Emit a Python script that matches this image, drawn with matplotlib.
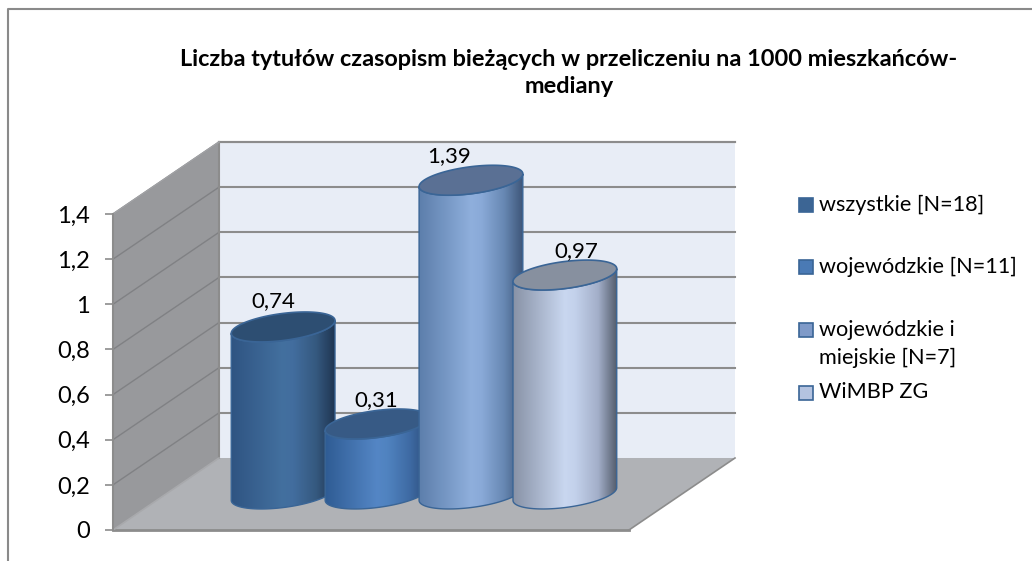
import numpy as np
import matplotlib
matplotlib.use("Agg")
import matplotlib.pyplot as plt
from matplotlib.colors import LinearSegmentedColormap
from matplotlib.patches import Polygon, Rectangle

TITLE = "Liczba tytułów czasopism bieżących w przeliczeniu na 1000 mieszkańców-\nmediany"
series = ["wszystkie [N=18]", "wojewódzkie [N=11]", "wojewódzkie i\nmiejskie [N=7]", "WiMBP ZG"]
values = [0.74, 0.31, 1.39, 0.97]
value_labels = ["0,74", "0,31", "1,39", "0,97"]
ticks = [0, 0.2, 0.4, 0.6, 0.8, 1, 1.2, 1.4]
tick_labels = ["0", "0,2", "0,4", "0,6", "0,8", "1", "1,2", "1,4"]

# side shading of each cylinder, left to right
shades = [
    ["#2f5482", "#43709f", "#426d9e", "#35597f", "#1f3552"],
    ["#2f5c94", "#5486c5", "#5083c0", "#3e6aa3", "#2a4b78"],
    ["#5c7eab", "#8fafdc", "#8aaad8", "#6788b3", "#3e5679"],
    ["#8892a6", "#c9d7f0", "#c3d1eb", "#a3afc9", "#545d6d"],
]
top_colors = ["#2d4e72", "#375a85", "#5a7094", "#87909f"]
legend_colors = ["#3c6594", "#4a7ab5", "#7f9ac8", "#b4c3e0"]
edge_color = "#3a6596"

plt.rcParams["font.family"] = ["Lato", "DejaVu Sans"]

W, H = 1032, 561
fig = plt.figure(figsize=(W / 100, H / 100), dpi=100)

# overlay in pixels for frame, title and legend
ov = fig.add_axes([0, 0, 1, 1], zorder=5)
ov.set_xlim(0, W)
ov.set_ylim(H, 0)
ov.axis("off")
ov.patch.set_alpha(0)

# real value axis: front edge of the left wall
ax = fig.add_axes([113 / W, (H - 530) / H, 516 / W, 316 / H])
ax.set_xlim(0, 1)
ax.set_ylim(0, 1.4)
ax.patch.set_alpha(0)
for s in ["top", "right", "bottom"]:
    ax.spines[s].set_visible(False)
ax.spines["left"].set_color("#8c8c8c")
ax.spines["left"].set_linewidth(1.5)
ax.set_xticks([])
ax.set_yticks(ticks)
ax.set_yticklabels(tick_labels, fontsize=17, color="#000000")
ax.tick_params(axis="y", length=5.8, width=1.2, color="#8c8c8c", pad=11)

# oblique depth: how far one full depth shifts right (axis fraction) and up (values)
DX = 106 / 516
DY = 72 / 225.7


def project(u, w, v):
    return np.column_stack([np.asarray(u) + np.asarray(w) * DX, np.asarray(v) + np.asarray(w) * DY])


def quad(pts, **kw):
    p = Polygon(pts, closed=True, clip_on=False, **kw)
    ax.add_patch(p)
    return p


quad(project([0, 1, 1, 0], [1, 1, 1, 1], [0, 0, 1.4, 1.4]), facecolor="#e8edf6", zorder=1,
     edgecolor="none")
quad(project([0, 0, 0, 0], [0, 1, 1, 0], [0, 0, 1.4, 1.4]), facecolor="#98999c", zorder=1,
     edgecolor="none")
quad(project([0, 1, 1, 0], [0, 0, 1, 1], [0, 0, 0, 0]), facecolor="#b0b2b6", zorder=1.2,
     edgecolor="none")
# wall and floor outlines
ax.plot(*project([0, 1], [1, 1], [1.4, 1.4]).T, color="#8c8c8c", lw=1.5, clip_on=False, zorder=1.3)
ax.plot(*project([0, 0], [1, 1], [0, 1.4]).T, color="#8c8c8c", lw=1.5, clip_on=False, zorder=1.3)
ax.plot(*project([0, 0], [0, 1], [1.4, 1.4]).T, color="#a0a1a4", lw=1.2, clip_on=False, zorder=1.3)
ax.plot(*project([0, 1], [0, 0], [0, 0]).T, color="#8c8c8c", lw=2, clip_on=False, zorder=1.3)
ax.plot(*project([1, 1], [0, 1], [0, 0]).T, color="#8c8c8c", lw=1.2, clip_on=False, zorder=1.3)
ax.plot(*project([0, 0], [0, 1], [0, 0]).T, color="#a8a9ac", lw=1.2, clip_on=False, zorder=1.3)

for t in ticks[1:]:
    ax.plot(*project([0, 1], [1, 1], [t, t]).T, color="#8c8c8c", lw=1.5, clip_on=False, zorder=1.1)
    ax.plot(*project([0, 0], [0, 1], [t, t]).T, color="#808184", lw=1.0, clip_on=False, zorder=1.1)

# cylinders: circles on the floor, four bars in one category
BAR_W = 0.182
R_U = BAR_W / 2
R_W = 0.208
MID_W = 0.5
START = 0.227
label_shift = [(-10, 26), (-1, 24), (-22, 24), (11, 24)]

t0 = np.arctan2(R_W * DX, R_U)
half_x = np.hypot(R_U, R_W * DX)

for i, val in enumerate(values):
    uc = START + i * BAR_W
    z = 2 + i
    ring = np.linspace(0, 2 * np.pi, 200)
    front = np.linspace(t0 + np.pi, t0 + 2 * np.pi, 100)
    bottom = project(uc + R_U * np.cos(front), MID_W + R_W * np.sin(front), 0 * front)
    top_front = project(uc + R_U * np.cos(front), MID_W + R_W * np.sin(front), val + 0 * front)
    body = quad(np.vstack([bottom, top_front[::-1]]), facecolor="none", edgecolor=edge_color,
                linewidth=1.0, zorder=z + 0.2)
    xc = project([uc], [MID_W], [0])[0, 0]
    cmap = LinearSegmentedColormap.from_list("c%d" % i, list(zip([0, 0.5, 0.6, 0.82, 1], shades[i])))
    im = ax.imshow(np.linspace(0, 1, 256)[None, :], cmap=cmap, aspect="auto", zorder=z,
                   extent=[xc - half_x, xc + half_x, 0, 1.6], interpolation="bilinear")
    im.set_clip_box(fig.bbox)
    im.set_clip_path(body)
    quad(project(uc + R_U * np.cos(ring), MID_W + R_W * np.sin(ring), val + 0 * ring),
         facecolor=top_colors[i], edgecolor=edge_color, linewidth=1.2, zorder=z + 0.4)
    ctr = project([uc], [MID_W], [val])[0]
    ax.annotate(value_labels[i], ctr, xytext=label_shift[i], textcoords="offset pixels",
                ha="center", va="center", fontsize=16, color="#000000", zorder=50,
                annotation_clip=False)

ax.set_xlim(0, 1)
ax.set_ylim(0, 1.4)

# outer frame, only top and left reach the picture
ov.plot([8, 8, W], [H, 9, 9], color="#8a8a8a", lw=1.5, clip_on=False)

ov.text(569, 73, TITLE, ha="center", va="center", fontsize=16.9, fontweight="bold",
        color="#000000", linespacing=1.38)

# legend rows have uneven spacing in the original
leg_y = [205, 267, 330, 393]
text_y = [205, 267, 344, 392]
for name, col, y, ty in zip(series, legend_colors, leg_y, text_y):
    ov.add_patch(Rectangle((799, y - 7), 14, 14, facecolor=col, edgecolor="#3a6596", lw=1.2))
    ov.text(819, ty, name, ha="left", va="center", fontsize=15.6, color="#000000", linespacing=1.43)

fig.savefig("out.png", dpi=100)
plt.close()
